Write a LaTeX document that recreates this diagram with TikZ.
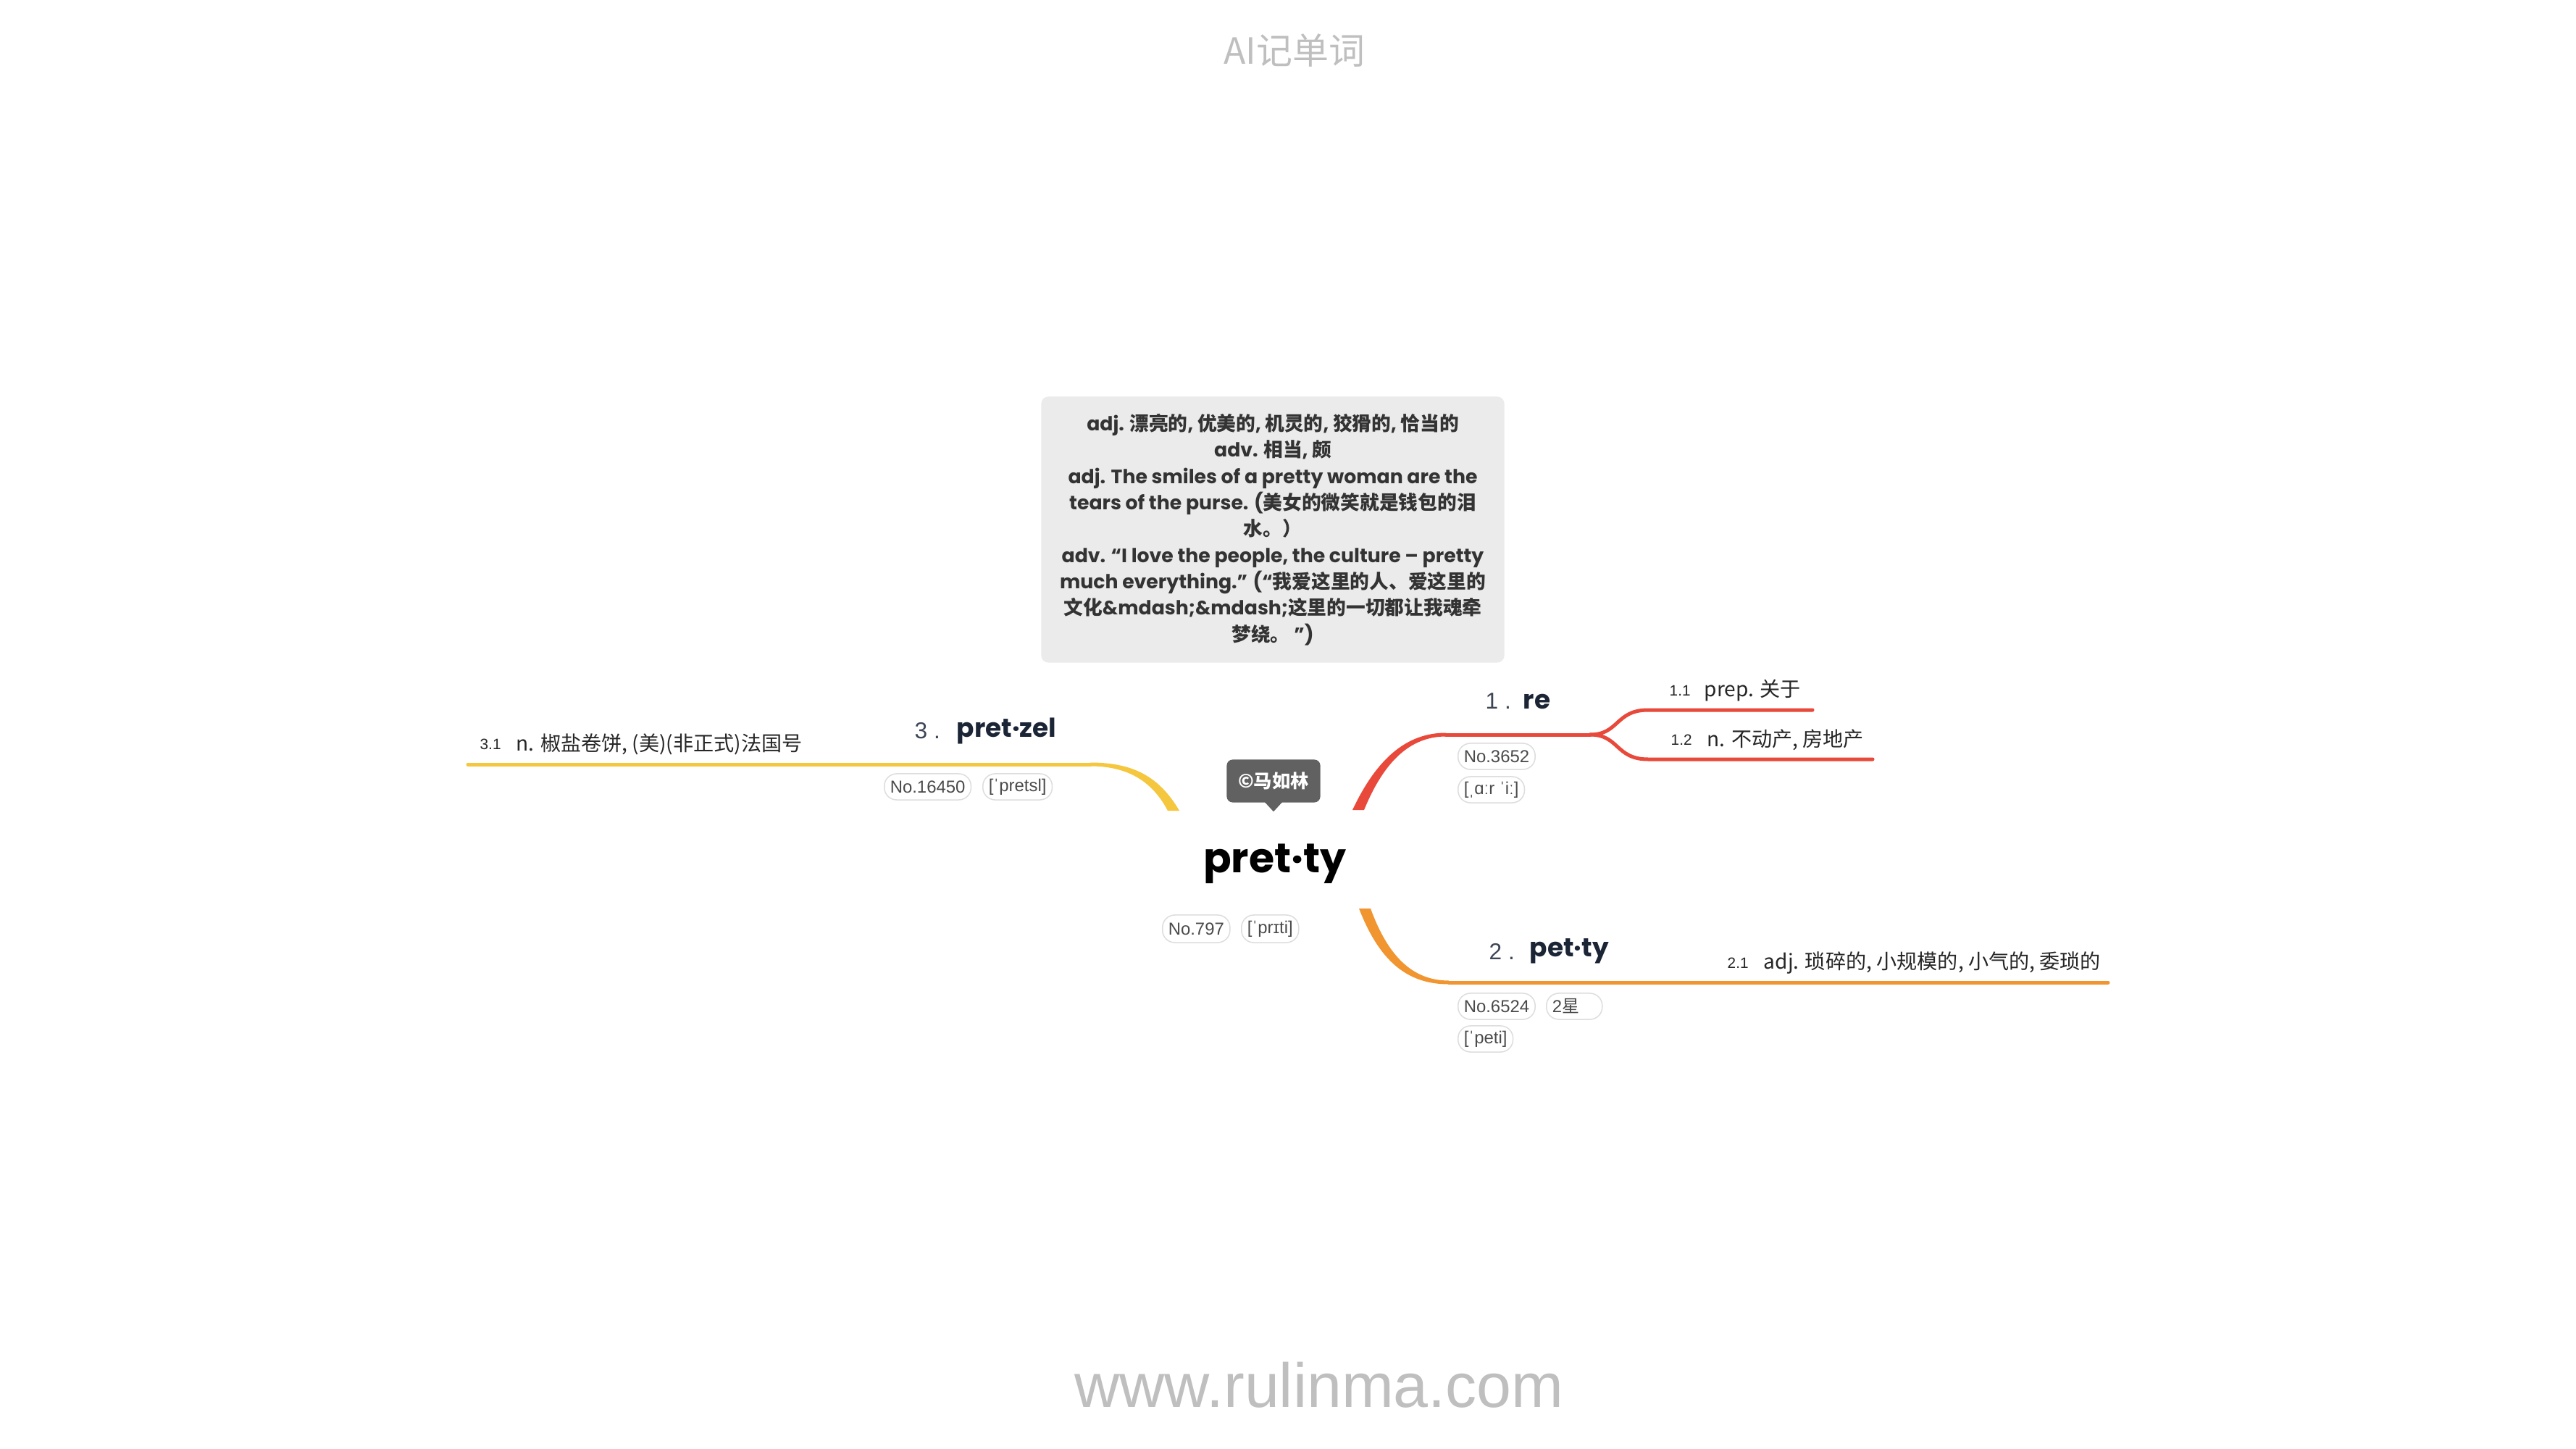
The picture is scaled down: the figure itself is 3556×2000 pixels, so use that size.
\documentclass[tikz,border=0pt]{standalone}
\usepackage{fontspec}
\setmainfont{Liberation Sans}
\newfontfamily\cjk{Noto Sans CJK SC}
\newfontfamily\pop{Poppins}
\usetikzlibrary{calc}
\definecolor{cred}{HTML}{E8493A}
\definecolor{corange}{HTML}{F0952F}
\definecolor{cyellow}{HTML}{F5C73F}
\definecolor{navy}{HTML}{1B2536}
\definecolor{boxgray}{HTML}{EBEBEB}
\definecolor{tipgray}{HTML}{616161}
\definecolor{pilltext}{HTML}{4A4A4A}
\definecolor{pillline}{HTML}{DDDDDD}
\definecolor{wm}{HTML}{BFBFBF}
\newcommand\C[1]{{\cjk #1}}
\begin{document}
\begin{tikzpicture}[x=0.01cm,y=-0.01cm,
 pill/.style={draw=pillline, line width=0.015cm, fill=white, rounded corners=0.17cm, minimum height=0.36cm, inner xsep=0.08cm, inner ysep=0pt, font=\fontsize{6.8pt}{8pt}\selectfont, text=pilltext, anchor=west},
 topic/.style={font=\pop\bfseries\fontsize{10.2pt}{12pt}\selectfont, text=navy, anchor=west, inner sep=0pt},
 num/.style={font=\fontsize{9pt}{11pt}\selectfont, text=navy!85, anchor=west, inner sep=0pt},
 subnum/.style={font=\fontsize{5.9pt}{7pt}\selectfont, text=black!85, anchor=west, inner sep=0pt},
 subtext/.style={font=\cjk\fontsize{8pt}{10pt}\selectfont, text=black!85, anchor=west, inner sep=0pt},
 branch/.style={line width=0.05cm, line cap=round}
]
\fill[white] (0,0) rectangle (3556,2000);
\useasboundingbox (0,0) rectangle (3556,2000);

% watermark texts
\node[font=\cjk\fontsize{14.2pt}{16pt}\selectfont, text=wm] (title) at (1787,70) {AI记单词};
\node[font=\fontsize{24.5pt}{28pt}\selectfont, text=wm] (site) at (1821,1912) {www.rulinma.com};

% branch coordinates
\coordinate (cR) at (1875,1118);
\coordinate (rA) at (1996,1014);
\coordinate (rB) at (2195,1014);
\coordinate (r1) at (2275,980);
\coordinate (r1e) at (2502,980);
\coordinate (r2) at (2275,1048);
\coordinate (r2e) at (2585,1048);
\coordinate (cO) at (1884,1254);
\coordinate (oA) at (2000,1356);
\coordinate (oE) at (2910,1356);
\coordinate (cY) at (1620,1119);
\coordinate (yA) at (1505,1055);
\coordinate (yE) at (646,1055);

% red branch
\fill[cred] ($(cR)+(-8,0)$) .. controls ($(cR)+(25,-70)$) and ($(rA)+(-55,-2.5)$) .. ($(rA)+(0,-2.5)$)
  -- ($(rA)+(0,2.5)$) .. controls ($(rA)+(-50,2.5)$) and ($(cR)+(35,-66)$) .. ($(cR)+(8,0)$) -- cycle;
\draw[cred,branch] (rA) -- (rB);
\draw[cred,branch] (rB) .. controls +(40,0) and +(-45,0) .. (r1) -- (r1e);
\draw[cred,branch] (rB) .. controls +(40,0) and +(-45,0) .. (r2) -- (r2e);

% orange branch
\fill[corange] ($(cO)+(-8,0)$) .. controls ($(cO)+(20,72)$) and ($(oA)+(-58,2.5)$) .. ($(oA)+(0,2.5)$)
  -- ($(oA)+(0,-2.5)$) .. controls ($(oA)+(-50,-2.5)$) and ($(cO)+(32,66)$) .. ($(cO)+(8,0)$) -- cycle;
\draw[corange,branch] (oA) -- (oE);

% yellow branch
\fill[cyellow] ($(cY)+(8,0)$) .. controls ($(cY)+(-20,-48)$) and ($(yA)+(58,-2.5)$) .. ($(yA)+(0,-2.5)$)
  -- ($(yA)+(0,2.5)$) .. controls ($(yA)+(50,2.5)$) and ($(cY)+(-30,-42)$) .. ($(cY)+(-8,0)$) -- cycle;
\draw[cyellow,branch] (yA) -- (yE);

% definition box
\node[fill=boxgray, rounded corners=0.1cm, minimum width=6.39cm, minimum height=3.67cm, align=center,
  font=\pop\bfseries\fontsize{7.6pt}{10.33pt}\selectfont, text=black!80] (defs) at (1757,731)
{adj. \C{漂亮的}, \C{优美的}, \C{机灵的}, \C{狡猾的}, \C{恰当的}\\
adv. \C{相当}, \C{颇}\\
adj. The smiles of a pretty woman are the\\
tears of the purse. (\C{美女的微笑就是钱包的泪}\\
\C{水。）}\\
adv. “I love the people, the culture – pretty\\
much everything.” (“\C{我爱这里的人、爱这里的}\\
\C{文化}\&mdash;\&mdash;\C{这里的一切都让我魂牵}\\
\C{梦绕。} ”)};

% central topic
\node[font=\pop\bfseries\fontsize{16.2pt}{20pt}\selectfont, text=black, inner sep=0pt] (main) at (1760,1192) {pret·ty};
\node[fill=tipgray, rounded corners=0.08cm, minimum width=1.29cm, minimum height=0.59cm, inner sep=0pt,
  text=white, font=\cjk\bfseries\fontsize{7.2pt}{8pt}\selectfont] (tip) at (1758,1078) {©马如林};
\fill[tipgray] ($(tip.south)+(-12,-1)$) -- ($(tip.south)+(12,-1)$) -- ($(tip.south)+(0,12)$) -- cycle;
\node[pill, minimum height=0.38cm] (pm1) at (1604,1282) {No.797};
\node[pill, minimum height=0.38cm] (pm2) at (1713,1282) {[ˈprɪti]};

% branch 1
\node[num] (n1) at (2050,968) {1 .};
\node[topic] (t1) at (2102,968) {re};
\node[pill] (p1a) at (2012,1044) {No.3652};
\node[pill] (p1b) at (2012,1090) {[ˌɑːr ˈiː]};
\node[subnum] (s11n) at (2304,953) {1.1};
\node[subtext] (s11) at (2352,953) {prep. 关于};
\node[subnum] (s12n) at (2306,1021) {1.2};
\node[subtext] (s12) at (2356,1021) {n. 不动产, 房地产};

% branch 2
\node[num] (n2) at (2055,1313) {2 .};
\node[topic] (t2) at (2111,1313) {pet·ty};
\node[pill] (p2a) at (2012,1389) {No.6524};
\node[pill] (p2b) at (2134,1389) {\makebox[0.61cm][l]{2\C{星}}};
\node[pill] (p2c) at (2012,1434) {[ˈpeti]};
\node[subnum] (s21n) at (2384,1329) {2.1};
\node[subtext] (s21) at (2434,1329) {adj. 琐碎的, 小规模的, 小气的, 委琐的};

% branch 3
\node[num] (n3) at (1262,1009) {3 .};
\node[topic] (t3) at (1320,1009) {pret·zel};
\node[pill] (p3a) at (1220,1086) {No.16450};
\node[pill] (p3b) at (1356,1086) {[ˈpretsl]};
\node[subnum] (s31n) at (662,1027) {3.1};
\node[subtext] (s31) at (712,1027) {n. 椒盐卷饼, (美)(非正式)法国号};
\end{tikzpicture}
\end{document}
